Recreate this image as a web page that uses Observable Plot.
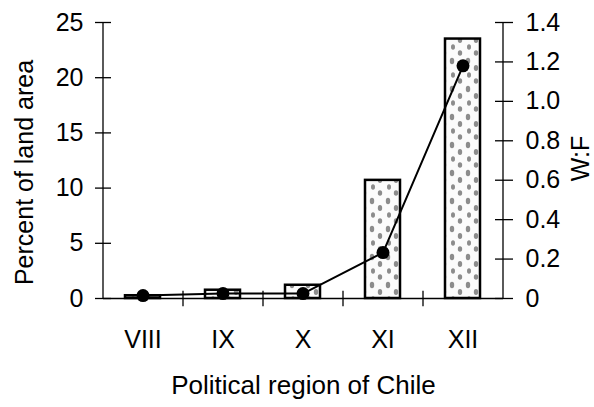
<!DOCTYPE html>
<html>
<head>
<meta charset="utf-8">
<script src="https://cdn.jsdelivr.net/npm/d3@7"></script>
<script src="https://cdn.jsdelivr.net/npm/@observablehq/plot@0.6"></script>
<style>
  html, body { margin: 0; padding: 0; background: #fff; }
</style>
</head>
<body>
<div id="chart"></div>
<script>
const regions = ["VIII", "IX", "X", "XI", "XII"];
const percentLand = [0.25, 0.75, 1.2, 10.7, 23.5];
const wfRatio = [0.015, 0.025, 0.025, 0.233, 1.18];
const leftTicks = [0, 5, 10, 15, 20, 25];
const rightTicks = [0, 0.2, 0.4, 0.6, 0.8, 1.0, 1.2, 1.4];
const yLabel = "Percent of land area";
const y2Label = "W:F";
const xLabel = "Political region of Chile";

const W = 594, H = 407;
const mL = 103, mR = 91, mT = 22, mB = 109;
const yMax = 25, y2Max = 1.4;
const k = yMax / y2Max;
const halfStep = (W - mL - mR) / regions.length / 2;

const bars = regions.map((r, i) => ({region: r, pct: percentLand[i]}));
const pts = regions.map((r, i) => ({region: r, wf: wfRatio[i] * k}));
const fmt2 = v => v === 0 ? "0" : v.toFixed(1);

const svg = Plot.plot({
  width: W,
  height: H,
  marginLeft: mL,
  marginRight: mR,
  marginTop: mT,
  marginBottom: mB,
  style: {fontFamily: "'Liberation Sans', Arial, Helvetica, sans-serif", fontSize: "25px", color: "#000", background: "#fff"},
  x: {type: "band", domain: regions, paddingInner: 0.56, paddingOuter: 0.28, axis: null},
  y: {domain: [0, yMax], axis: null},
  marks: [
    Plot.barY(bars, {x: "region", y: "pct", fill: "url(#stipple)", stroke: "#000", strokeWidth: 2.5}),
    // axis lines
    Plot.ruleY([0], {stroke: "#000", strokeWidth: 1.3}),
    Plot.ruleX([regions[0]], {dx: -halfStep, y1: 0, y2: yMax, stroke: "#000", strokeWidth: 1.3}),
    Plot.ruleX([regions[regions.length - 1]], {dx: halfStep, y1: 0, y2: yMax, stroke: "#000", strokeWidth: 1.3}),
    // x boundary ticks
    Plot.ruleX(regions.slice(0, -1), {dx: halfStep, y1: -0.75, y2: 0.65, stroke: "#000", strokeWidth: 1.3}),
    // left axis
    Plot.axisY(leftTicks, {anchor: "left", tickSize: 16, dx: 8, fill: "none", stroke: "#000", strokeWidth: 1.3, label: null}),
    Plot.axisY(leftTicks, {anchor: "left", tickSize: 0, tickPadding: 20, fill: "#000", label: null, fontSize: 25}),
    // right axis
    Plot.axisY(rightTicks.map(v => v * k), {anchor: "right", tickSize: 18, dx: -9, fill: "none", stroke: "#000", strokeWidth: 1.3, label: null}),
    Plot.axisY(rightTicks.map(v => v * k), {anchor: "right", tickSize: 0, tickPadding: 22, fill: "#000", label: null, fontSize: 25, tickFormat: d => fmt2(d / k)}),
    // x axis labels
    Plot.axisX({anchor: "bottom", tickSize: 0, tickPadding: 32, fill: "#000", label: null, fontSize: 25}),
    // W:F line and points
    Plot.line(pts, {x: "region", y: "wf", stroke: "#000", strokeWidth: 2}),
    Plot.dot(pts, {x: "region", y: "wf", r: 6.5, fill: "#000"}),
    // axis titles
    Plot.text([yLabel], {frameAnchor: "left", textAnchor: "middle", text: d => d, rotate: -90, dx: -79, dy: 12, fontSize: 25, fill: "#000"}),
    Plot.text([y2Label], {frameAnchor: "right", textAnchor: "middle", text: d => d, rotate: -90, dx: 77, dy: -2, fontSize: 25, fill: "#000"}),
    Plot.text([xLabel], {frameAnchor: "bottom", textAnchor: "middle", text: d => d, dy: 95, fontSize: 26, fill: "#000"})
  ]
});

const defs = d3.select(svg).insert("defs", ":first-child");
const pat = defs.append("pattern")
  .attr("id", "stipple")
  .attr("patternUnits", "userSpaceOnUse")
  .attr("width", 16).attr("height", 28);
pat.append("rect").attr("width", 16).attr("height", 28).attr("fill", "#fbfbfb");
pat.append("ellipse").attr("cx", 4).attr("cy", 5).attr("rx", 2.2).attr("ry", 3.2).attr("fill", "#8c8c8c");
pat.append("ellipse").attr("cx", 12).attr("cy", 12).attr("rx", 2.2).attr("ry", 3).attr("fill", "#8c8c8c");
pat.append("ellipse").attr("cx", 5).attr("cy", 19).attr("rx", 2).attr("ry", 2.8).attr("fill", "#8c8c8c");
pat.append("ellipse").attr("cx", 12).attr("cy", 25).attr("rx", 2.2).attr("ry", 2.8).attr("fill", "#8c8c8c");

document.getElementById("chart").appendChild(svg);
</script>
</body>
</html>
